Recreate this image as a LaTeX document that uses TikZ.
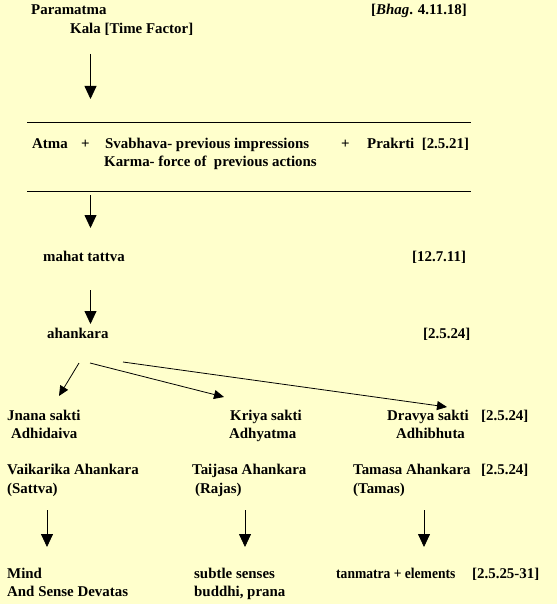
\documentclass[tikz,border=0pt]{standalone}
\usepackage{fontspec}
\usepackage{graphicx}
\setmainfont{Liberation Serif}
\usetikzlibrary{arrows.meta}
\definecolor{bg}{HTML}{FFFFCC}
\begin{document}
\begin{tikzpicture}[x=1pt,y=-1pt,
  lbl/.style={anchor=west,inner sep=0pt,text height=9.8pt,text depth=0pt,font=\fontsize{14.9}{17}\selectfont\bfseries},
  down/.style={line width=0.8pt,-{Triangle[width=12pt,length=13pt]}},
  diag/.style={line width=0.8pt,-{Triangle[width=9pt,length=10pt]}},
  rulel/.style={line width=0.9pt}]
\fill[bg] (0,0) rectangle (557,604);
\useasboundingbox (0,0) rectangle (557,604);
% top
\node[lbl] (param) at (31,10) {Paramatma};
\node[lbl] (bhag) at (371,10) {[\textit{Bhag}. 4.11.18]};
\node[lbl] (kala) at (70,29) {Kala [Time Factor]};
\coordinate (a1s) at (90.5,54); \coordinate (a1e) at (90.5,99);
\draw[down] (a1s) -- (a1e);
% box
\coordinate (r1l) at (27,122.5); \coordinate (r1r) at (471,122.5);
\draw[rulel] (r1l) -- (r1r);
\node[lbl] (atma) at (32,144) {Atma};
\node[lbl] (plus1) at (81,144) {+};
\node[lbl] (svab) at (105,144) {Svabhava- previous impressions};
\node[lbl] (plus2) at (341,144) {+};
\node[lbl] (prak) at (367,144) {Prakrti\ \ [2.5.21]};
\node[lbl] (karma) at (104,162) {Karma- force of\ \ previous actions};
\coordinate (r2l) at (27,191.5); \coordinate (r2r) at (471,191.5);
\draw[rulel] (r2l) -- (r2r);
\coordinate (a2s) at (90.5,195); \coordinate (a2e) at (90.5,228);
\draw[down] (a2s) -- (a2e);
% mahat
\node[lbl] (mahat) at (43,257) {mahat tattva};
\node[lbl] (ref3) at (412,257) {[12.7.11]};
\coordinate (a3s) at (90.5,290); \coordinate (a3e) at (90.5,324);
\draw[down] (a3s) -- (a3e);
\node[lbl] (ahan) at (47,334) {ahankara};
\node[lbl] (ref4) at (423,334) {[2.5.24]};
% branches
\coordinate (d1s) at (79,363); \coordinate (d1e) at (59,396);
\coordinate (d2s) at (90,363); \coordinate (d2e) at (224,397);
\coordinate (d3s) at (123,362); \coordinate (d3e) at (447,407);
\draw[diag] (d1s) -- (d1e);
\draw[diag] (d2s) -- (d2e);
\draw[diag] (d3s) -- (d3e);
% saktis
\node[lbl] (jnana) at (7,416) {Jnana sakti};
\node[lbl] (adhid) at (11,434) {Adhidaiva};
\node[lbl] (kriya) at (230,416) {Kriya sakti};
\node[lbl] (adhya) at (229,434) {Adhyatma};
\node[lbl] (dravya) at (387,416) {Dravya sakti};
\node[lbl] (ref5) at (481,416) {[2.5.24]};
\node[lbl] (adhib) at (396,434) {Adhibhuta};
% ahankaras
\node[lbl] (vaik) at (7,470) {Vaikarika Ahankara};
\node[lbl] (satt) at (7,489) {(Sattva)};
\node[lbl] (taij) at (192,470) {Taijasa Ahankara};
\node[lbl] (raj) at (195,489) {(Rajas)};
\node[lbl] (tama) at (353,470) {Tamasa Ahankara};
\node[lbl] (ref6) at (481,470) {[2.5.24]};
\node[lbl] (tams) at (353,489) {(Tamas)};
% bottom arrows
\coordinate (b1s) at (47,510); \coordinate (b1e) at (47,547);
\coordinate (b2s) at (245,510); \coordinate (b2e) at (245,547);
\coordinate (b3s) at (424,510); \coordinate (b3e) at (424,547);
\draw[down] (b1s) -- (b1e);
\draw[down] (b2s) -- (b2e);
\draw[down] (b3s) -- (b3e);
% results
\node[lbl] (mind) at (7,574) {Mind};
\node[lbl] (sense) at (7,592) {And Sense Devatas};
\node[lbl] (subtle) at (194,574) {subtle senses};
\node[lbl] (buddhi) at (194,592) {buddhi, prana};
\node[lbl] (tanm) at (336,574) {\scalebox{0.91}[1]{tanmatra + elements}};
\node[lbl] (ref7) at (472,574) {[2.5.25-31]};
\end{tikzpicture}
\end{document}
